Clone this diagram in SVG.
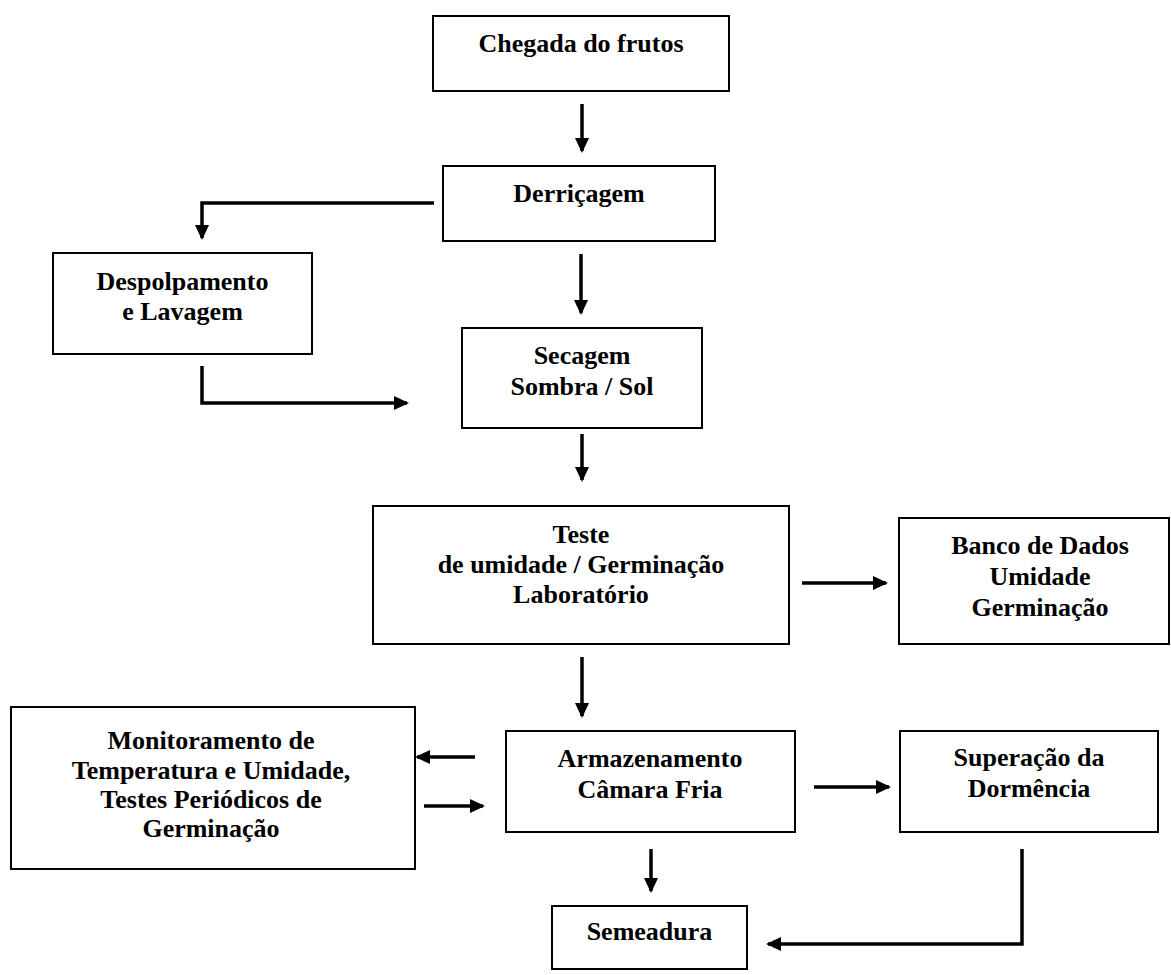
<svg xmlns="http://www.w3.org/2000/svg" width="1171" height="975" viewBox="0 0 1171 975">
<style>
.box{fill:#fff;stroke:#000;stroke-width:2}
.t{font-family:"Liberation Serif","Times New Roman",serif;font-weight:bold;font-size:26px;fill:#000;text-anchor:middle}
.c{fill:none;stroke:#000;stroke-width:3.5;marker-end:url(#ah)}
</style>
<defs>
<marker id="ah" markerUnits="userSpaceOnUse" viewBox="0 0 15 14" refX="13" refY="7" markerWidth="15" markerHeight="14" orient="auto">
<path d="M0,0 L15,7 L0,14 z" fill="#000"/>
</marker>
</defs>
<rect width="1171" height="975" fill="#fff"/>
<g id="connectors">
<path class="c" d="M582,104 V151"/>
<path class="c" d="M434,203 H202 V238"/>
<path class="c" d="M581,254 V313"/>
<path class="c" d="M202,366 V403 H407"/>
<path class="c" d="M582,434 V480"/>
<path class="c" d="M802,583 H886"/>
<path class="c" d="M582,657 V716"/>
<path class="c" d="M475,757 H417"/>
<path class="c" d="M424,806 H483"/>
<path class="c" d="M814,787 H889"/>
<path class="c" d="M651,849 V891"/>
<path class="c" d="M1022,849 V944 H768"/>
</g>
<g id="chegada">
<rect class="box" x="433" y="16" width="296" height="75"/>
<text class="t" x="581" y="52">Chegada do frutos</text>
</g>
<g id="derricagem">
<rect class="box" x="443" y="166" width="272" height="75"/>
<text class="t" x="579" y="202">Derriçagem</text>
</g>
<g id="despolpamento">
<rect class="box" x="53" y="253" width="259" height="101"/>
<text class="t" x="182.5" y="290">Despolpamento</text>
<text class="t" x="182.5" y="320">e Lavagem</text>
</g>
<g id="secagem">
<rect class="box" x="462" y="328" width="240" height="100"/>
<text class="t" x="582" y="364">Secagem</text>
<text class="t" x="582" y="395">Sombra / Sol</text>
</g>
<g id="teste">
<rect class="box" x="373" y="506" width="416" height="138"/>
<text class="t" x="581" y="543">Teste</text>
<text class="t" x="581" y="573">de umidade / Germinação</text>
<text class="t" x="581" y="603">Laboratório</text>
</g>
<g id="banco">
<rect class="box" x="899" y="518" width="270" height="126"/>
<text class="t" x="1040" y="554">Banco de Dados</text>
<text class="t" x="1040" y="585">Umidade</text>
<text class="t" x="1040" y="616">Germinação</text>
</g>
<g id="monitoramento">
<rect class="box" x="11" y="707" width="404" height="162"/>
<text class="t" x="211" y="749">Monitoramento de</text>
<text class="t" x="211" y="779">Temperatura e Umidade,</text>
<text class="t" x="211" y="808">Testes Periódicos de</text>
<text class="t" x="211" y="837">Germinação</text>
</g>
<g id="armazenamento">
<rect class="box" x="506" y="731" width="289" height="101"/>
<text class="t" x="650" y="767">Armazenamento</text>
<text class="t" x="650" y="798">Câmara Fria</text>
</g>
<g id="superacao">
<rect class="box" x="900" y="731" width="258" height="101"/>
<text class="t" x="1029" y="766">Superação da</text>
<text class="t" x="1029" y="797">Dormência</text>
</g>
<g id="semeadura">
<rect class="box" x="552" y="906" width="195" height="63"/>
<text class="t" x="649.5" y="940">Semeadura</text>
</g>
</svg>
